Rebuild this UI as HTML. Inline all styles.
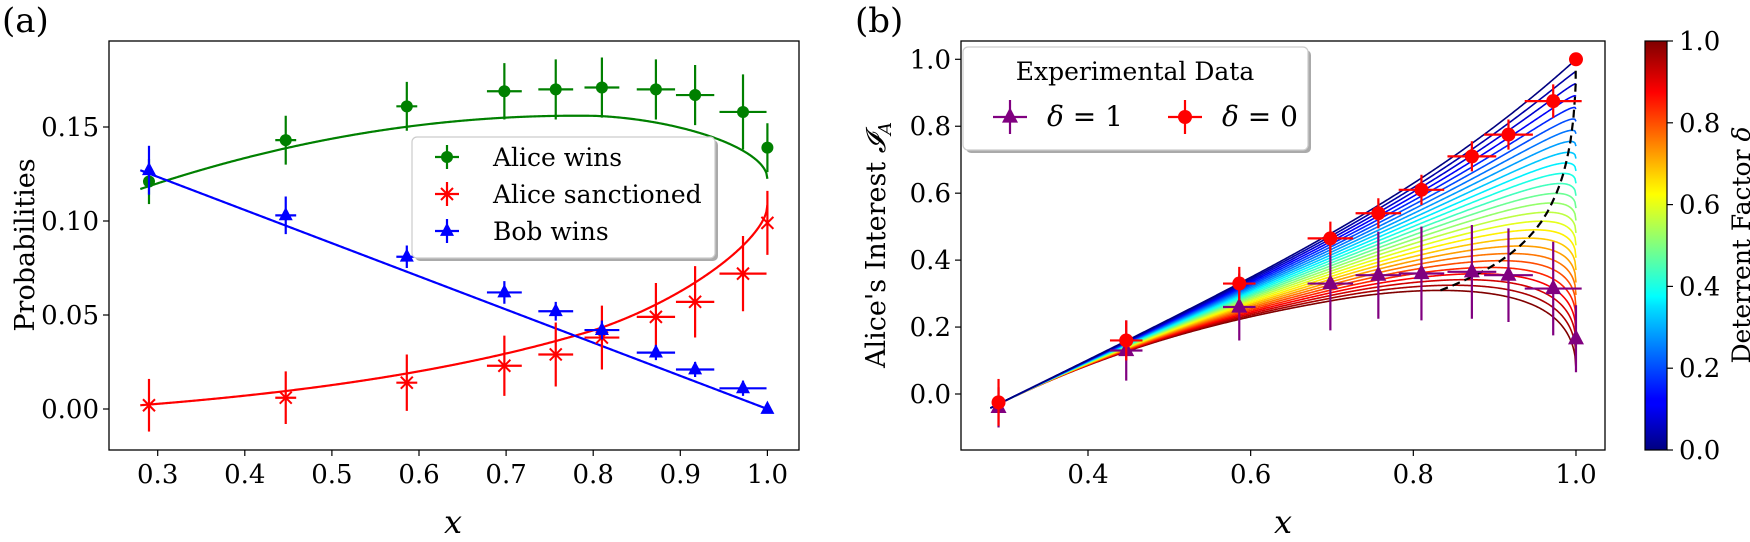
<!DOCTYPE html>
<html><head><meta charset="utf-8"><style>
html,body{margin:0;padding:0;background:#fff;}
svg{display:block;font-family:"DejaVu Serif","Liberation Serif",serif;}
</style></head><body>
<svg id="s" width="1750" height="542" viewBox="0 0 1750 542" xmlns="http://www.w3.org/2000/svg">
<defs>
<clipPath id="c1"><rect x="109" y="41" width="690" height="409"/></clipPath>
<clipPath id="c2"><rect x="961" y="41" width="644" height="409"/></clipPath>
<linearGradient id="jet" x1="0" y1="1" x2="0" y2="0">
<stop offset="0" stop-color="#000080"/><stop offset="0.11" stop-color="#0000ff"/><stop offset="0.125" stop-color="#0000ff"/>
<stop offset="0.35" stop-color="#00dfff"/><stop offset="0.375" stop-color="#00ffff"/><stop offset="0.5" stop-color="#80ff80"/>
<stop offset="0.625" stop-color="#ffff00"/><stop offset="0.66" stop-color="#ffdf00"/><stop offset="0.875" stop-color="#ff0000"/><stop offset="1" stop-color="#800000"/>
</linearGradient>
</defs>
<rect width="1750" height="542" fill="#fff"/>
<g id="g1" clip-path="url(#c1)"></g>
<g id="g2" clip-path="url(#c2)"></g>
<rect x="109" y="41" width="690" height="409" fill="none" stroke="#000" stroke-width="1.3"/>
<rect x="961" y="41" width="644" height="409" fill="none" stroke="#000" stroke-width="1.3"/>
<g id="ticks" stroke="#000" stroke-width="1.2"></g>
<g font-size="26" fill="#000" id="labs"></g>
<text x="2" y="32" font-size="34">(a)</text>
<text x="855" y="32" font-size="34">(b)</text>
<text transform="translate(34,245) rotate(-90)" text-anchor="middle" font-size="27">Probabilities</text>
<text transform="translate(885,245) rotate(-90)" text-anchor="middle" font-size="27">Alice's Interest <tspan font-style="italic">𝓘</tspan><tspan font-size="18" font-style="italic" dy="6">A</tspan></text>
<text x="453" y="533" text-anchor="middle" font-size="32" font-style="italic">x</text>
<text x="1283" y="533" text-anchor="middle" font-size="32" font-style="italic">x</text>
<rect x="415" y="140" width="303" height="121" rx="5" fill="#aaa"/>
<rect x="412" y="137" width="303" height="121" rx="5" fill="#fff" stroke="#ccc" stroke-width="1.2"/>
<g id="leg1"></g>
<text x="493" y="166" font-size="25">Alice wins</text>
<text x="493" y="203" font-size="25">Alice sanctioned</text>
<text x="493" y="240" font-size="25">Bob wins</text>
<rect x="966" y="50" width="345" height="103" rx="5" fill="#aaa"/>
<rect x="963" y="47" width="345" height="103" rx="5" fill="#fff" stroke="#ccc" stroke-width="1.2"/>
<g id="leg2"></g>
<text x="1135" y="80" text-anchor="middle" font-size="25">Experimental Data</text>
<text x="1047" y="126" font-size="28" font-style="italic">δ<tspan font-style="normal"> = 1</tspan></text>
<text x="1222" y="126" font-size="28" font-style="italic">δ<tspan font-style="normal"> = 0</tspan></text>
<rect x="1645" y="41" width="22" height="409" fill="url(#jet)" stroke="#000" stroke-width="1.2"/>
<text transform="translate(1750,245) rotate(-90)" text-anchor="middle" font-size="25">Deterrent Factor <tspan font-style="italic">δ</tspan></text>
</svg>
<script>
var NS="http://www.w3.org/2000/svg";
function el(p,t,a){var e=document.createElementNS(NS,t);for(var k in a)e.setAttribute(k,a[k]);p.appendChild(e);return e;}
var X1=v=>157.7+871*(v-0.3),Y1=v=>409-1880*v,X2=v=>1088+813.3*(v-0.4),Y2=v=>394-334.7*v;
var g1=document.getElementById('g1'),g2=document.getElementById('g2'),tk=document.getElementById('ticks'),lb=document.getElementById('labs');
function s2(x,p){var r=1-Math.sqrt(Math.max(0,1-x)/0.2);return r>0?Math.pow(r,p):0;}
function curve(g,f,X,Y,col,a,b,w){var d="";for(var i=0;i<=600;i++){var x=a+(b-a)*i/600;d+=(i?"L":"M")+X(x).toFixed(2)+" "+Y(f(x)).toFixed(2);}el(g,'path',{d:d,fill:'none',stroke:col,'stroke-width':w||2.2});}
var gf=x=>0.156-0.156*(x-0.78)*(x-0.78)-0.026*s2(x,1.5);
var rf=x=>0.002+0.0139*(Math.exp(2.6*(x-0.28))-1)+0.03*s2(x,1.5);
var bf=x=>0.127*(1-x)/0.72;
curve(g1,gf,X1,Y1,'#008000',0.28,1);curve(g1,rf,X1,Y1,'#ff0000',0.28,1);curve(g1,bf,X1,Y1,'#0000ff',0.28,1);
var xs=[0.29,0.447,0.586,0.698,0.757,0.81,0.872,0.917,0.972,1.0];
var xe=[0,0.012,0.012,0.02,0.02,0.02,0.022,0.022,0.027,0];
function marker(g,t,cx,cy,col,s){
 if(t=='o')el(g,'circle',{cx:cx,cy:cy,r:s,fill:col});
 else if(t=='^')el(g,'polygon',{points:(cx)+","+(cy-s*1.2)+" "+(cx-s)+","+(cy+s*0.7)+" "+(cx+s)+","+(cy+s*0.7),fill:col});
 else if(t=='x'){el(g,'path',{d:"M"+(cx-s)+" "+(cy-s)+"L"+(cx+s)+" "+(cy+s)+"M"+(cx-s)+" "+(cy+s)+"L"+(cx+s)+" "+(cy-s),stroke:col,'stroke-width':2});}
}
function series(g,X,Y,ys,ye,xe,col,t,s){for(var i=0;i<xs.length;i++){var cx=X(xs[i]),cy=Y(ys[i]);
 el(g,'path',{d:"M"+cx+" "+Y(ys[i]-ye[i])+"L"+cx+" "+Y(ys[i]+ye[i])+(xe[i]?"M"+X(xs[i]-xe[i])+" "+cy+"L"+X(xs[i]+xe[i])+" "+cy:""),stroke:col,'stroke-width':2.2});
 marker(g,t,cx,cy,col,s);}}
series(g1,X1,Y1,[0.121,0.143,0.161,0.169,0.170,0.171,0.170,0.167,0.158,0.139],[0.012,0.013,0.013,0.015,0.016,0.016,0.016,0.016,0.02,0.013],xe,'#008000','o',6);
series(g1,X1,Y1,[0.002,0.006,0.014,0.023,0.029,0.038,0.049,0.057,0.072,0.099],[0.014,0.014,0.015,0.016,0.017,0.017,0.018,0.019,0.02,0.017],xe,'#ff0000','x',6);
series(g1,X1,Y1,[0.127,0.103,0.081,0.062,0.052,0.042,0.030,0.021,0.011,0.0],[0.013,0.01,0.006,0.006,0.005,0.005,0.004,0.004,0.004,0.001],xe,'#0000ff','^',7);
function jet(t){var c=v=>Math.round(255*Math.max(0,Math.min(1,v)));return "rgb("+c(1.5-Math.abs(4*t-3))+","+c(1.5-Math.abs(4*t-2))+","+c(1.5-Math.abs(4*t-1))+")";}
var I0=x=>1.2*(x-0.29)-0.03+0.7*Math.pow(x-0.29,4);
function gg(x){var r=1-Math.sqrt(Math.max(0,1-x)/0.3);r=r>0?r*r:0;return 1.15*(x-0.28)*(x-0.28)+0.33*r;}
var N=25,locus=[];
for(var k=N;k>=0;k--){var d=k/N;curve(g2,x=>I0(x)-d*gg(x),X2,Y2,jet(d),0.28,1,1.6);
 var bx=0,bv=-9;for(var i=0;i<=2000;i++){var x=0.28+0.72*i/2000,v=I0(x)-d*gg(x);if(v>bv){bv=v;bx=x;}}locus.push([bx,bv]);}
locus.sort((a,b)=>a[0]-b[0]);
var dd="";locus.forEach((p,i)=>{dd+=(i?"L":"M")+X2(p[0]).toFixed(2)+" "+Y2(p[1]).toFixed(2);});
el(g2,'path',{d:dd,fill:'none',stroke:'#000','stroke-width':2.2,'stroke-dasharray':'8,5'});
series(g2,X2,Y2,[-0.04,0.13,0.26,0.33,0.355,0.36,0.365,0.355,0.315,0.165],[0.06,0.09,0.1,0.14,0.13,0.14,0.14,0.14,0.14,0.1],xe.map(v=>v?v+0.008:0),'#800080','^',8);
series(g2,X2,Y2,[-0.025,0.16,0.33,0.465,0.54,0.61,0.71,0.775,0.875,1.0],[0.07,0.06,0.05,0.05,0.045,0.045,0.045,0.045,0.05,0.01],xe.map(v=>v?v+0.008:0),'#ff0000','o',7);
function yt(x,yv,lab){el(tk,'line',{x1:x-6,y1:yv,x2:x,y2:yv});var t=el(lb,'text',{x:x-10,y:yv+9,'text-anchor':'end'});t.textContent=lab;}
function xt(xv,y,lab){el(tk,'line',{x1:xv,y1:y,x2:xv,y2:y+6});var t=el(lb,'text',{x:xv,y:y+33,'text-anchor':'middle'});t.textContent=lab;}
[[0,"0.00"],[0.05,"0.05"],[0.1,"0.10"],[0.15,"0.15"]].forEach(a=>yt(109,Y1(a[0]),a[1]));
[0.3,0.4,0.5,0.6,0.7,0.8,0.9,1.0].forEach(v=>xt(X1(v),450,v.toFixed(1)));
[0,0.2,0.4,0.6,0.8,1.0].forEach(v=>yt(961,Y2(v),v.toFixed(1)));
[0.4,0.6,0.8,1.0].forEach(v=>xt(X2(v),450,v.toFixed(1)));
[0,0.2,0.4,0.6,0.8,1.0].forEach(v=>{var y=450-409*v;el(tk,'line',{x1:1667,y1:y,x2:1673,y2:y});var t=el(lb,'text',{x:1679,y:y+9});t.textContent=v.toFixed(1);});
var l1=document.getElementById('leg1');
[['#008000','o',6,157],['#ff0000','x',6,194],['#0000ff','^',7,231]].forEach(a=>{el(l1,'path',{d:"M435 "+a[3]+"L459 "+a[3]+"M447 "+(a[3]-12)+"L447 "+(a[3]+12),stroke:a[0],'stroke-width':2.2});marker(l1,a[1],447,a[3],a[0],a[2]);});
var l2=document.getElementById('leg2');
[['#800080','^',8,1010],['#ff0000','o',7,1185]].forEach(a=>{el(l2,'path',{d:"M"+(a[3]-17)+" 117L"+(a[3]+17)+" 117M"+a[3]+" 100L"+a[3]+" 134",stroke:a[0],'stroke-width':2.2});marker(l2,a[1],a[3],117,a[0],a[2]);});
</script>
</body></html>
